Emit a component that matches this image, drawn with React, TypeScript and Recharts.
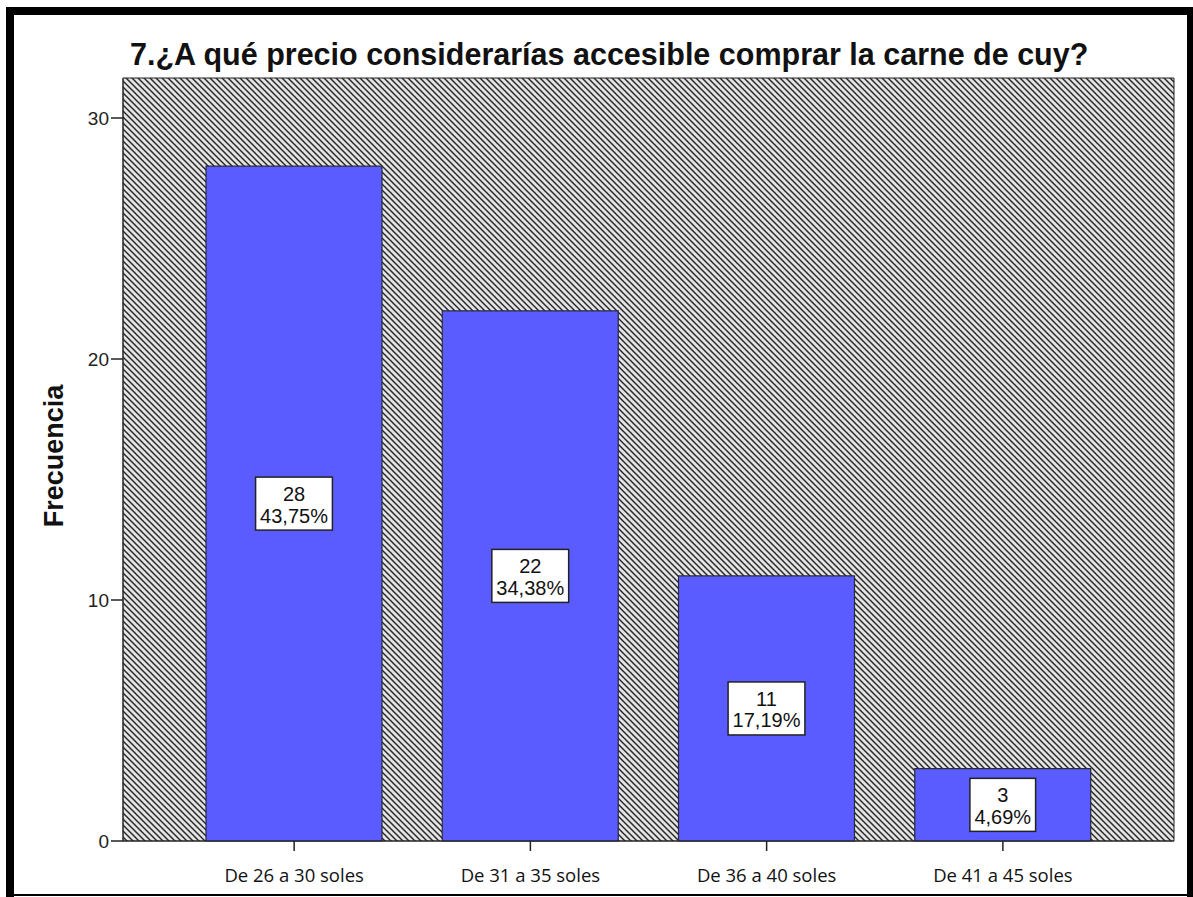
import React from 'react'
import { BarChart, Bar, XAxis, YAxis, CartesianGrid, LabelList } from 'recharts'

const categorias = ['De 26 a 30 soles', 'De 31 a 35 soles', 'De 36 a 40 soles', 'De 41 a 45 soles']
const frecuencias = [28, 22, 11, 3]
const porcentajes = ['43,75%', '34,38%', '17,19%', '4,69%']
const yTicks = [0, 10, 20, 30]

const data = categorias.map((categoria, i) => ({
  categoria,
  frecuencia: frecuencias[i],
  porcentaje: porcentajes[i],
}))

const ARIAL = 'Arial, "Liberation Sans", sans-serif'

// rough Arial widths so the label box hugs its text
const charW = (c: string) => (c === ',' || c === '.' ? 0.278 : c === '%' ? 0.889 : 0.556)
const textWidth = (s: string, size: number) => s.split('').reduce((a, c) => a + charW(c), 0) * size

function ValueBox(props: any) {
  const { x, y, width, height, index } = props
  const cx = x + width / 2
  const cy = y + height / 2
  const top = String(frecuencias[index])
  const bottom = porcentajes[index]
  const w = Math.max(textWidth(top, 20), textWidth(bottom, 20)) + 9
  const h = 53
  return (
    <g>
      <rect x={cx - w / 2} y={cy - h / 2} width={w} height={h} fill="#fff" stroke="#222" strokeWidth={1.5} />
      <text x={cx} y={cy - 9.5} textAnchor="middle" dominantBaseline="central" fontFamily={ARIAL} fontSize={20} fill="#111">
        {top}
      </text>
      <text x={cx} y={cy + 12} textAnchor="middle" dominantBaseline="central" fontFamily={ARIAL} fontSize={20} fill="#111">
        {bottom}
      </text>
    </g>
  )
}

export default function App() {
  return (
    <div style={{ position: 'absolute', left: 0, top: 0, width: 1193, height: 897, background: '#fff', overflow: 'hidden' }}>
      {/* hatch pattern for the plot background */}
      <svg width={0} height={0} style={{ position: 'absolute' }}>
        <defs>
          <pattern id="hatch" patternUnits="userSpaceOnUse" width={6} height={6}>
            <rect width={6} height={6} fill="#e4e4e4" />
            <path d="M0,0 L6,6 M-1,5 L1,7 M5,-1 L7,1" stroke="#2a2a2a" strokeWidth={1.5} />
          </pattern>
        </defs>
      </svg>

      <BarChart
        width={1193}
        height={897}
        data={data}
        margin={{ top: 78, right: 19, left: 0, bottom: 0 }}
      >
        <CartesianGrid
          fill="url(#hatch)"
          fillOpacity={1}
          stroke="#222"
          strokeDasharray=""
          horizontalCoordinatesGenerator={({ offset }: any) => [offset.top, offset.top + offset.height]}
          verticalCoordinatesGenerator={({ offset }: any) => [offset.left, offset.left + offset.width]}
        />
        <XAxis
          dataKey="categoria"
          height={56}
          padding={{ left: 53, right: 53 }}
          tickSize={10}
          tickMargin={18}
          axisLine={{ stroke: '#222' }}
          tickLine={{ stroke: '#222', strokeWidth: 1.5 }}
          tick={{ fontFamily: '"Open Sans", sans-serif', fontSize: 18.5, fill: '#111' }}
        />
        <YAxis
          width={123}
          domain={[0, 31.66]}
          ticks={yTicks}
          tickSize={12}
          tickMargin={2}
          axisLine={{ stroke: '#222' }}
          tickLine={{ stroke: '#222', strokeWidth: 1.5 }}
          tick={{ fontFamily: ARIAL, fontSize: 19, fill: '#222' }}
        />
        <Bar dataKey="frecuencia" fill="#5a5cff" stroke="#2a2a3a" strokeWidth={1.2} barSize={176} isAnimationActive={false}>
          <LabelList dataKey="frecuencia" content={ValueBox} />
        </Bar>
      </BarChart>

      {/* title, axis title and the picture frame */}
      <svg width={1193} height={897} style={{ position: 'absolute', left: 0, top: 0, pointerEvents: 'none' }}>
        <text x={130} y={65} fontFamily={ARIAL} fontWeight="bold" fontSize={30.5} fill="#111">
          7.¿A qué precio considerarías accesible comprar la carne de cuy?
        </text>
        <text
          x={0}
          y={0}
          transform="translate(63,456) rotate(-90)"
          textAnchor="middle"
          fontFamily={ARIAL}
          fontWeight="bold"
          fontSize={27}
          fill="#111"
        >
          Frecuencia
        </text>
        <rect x={6} y={7} width={8} height={890} fill="#000" />
        <rect x={6} y={7} width={1187} height={8} fill="#000" />
        <rect x={1187} y={7} width={6} height={890} fill="#000" />
        <rect x={6} y={894} width={1187} height={2} fill="#000" />
      </svg>
    </div>
  )
}
